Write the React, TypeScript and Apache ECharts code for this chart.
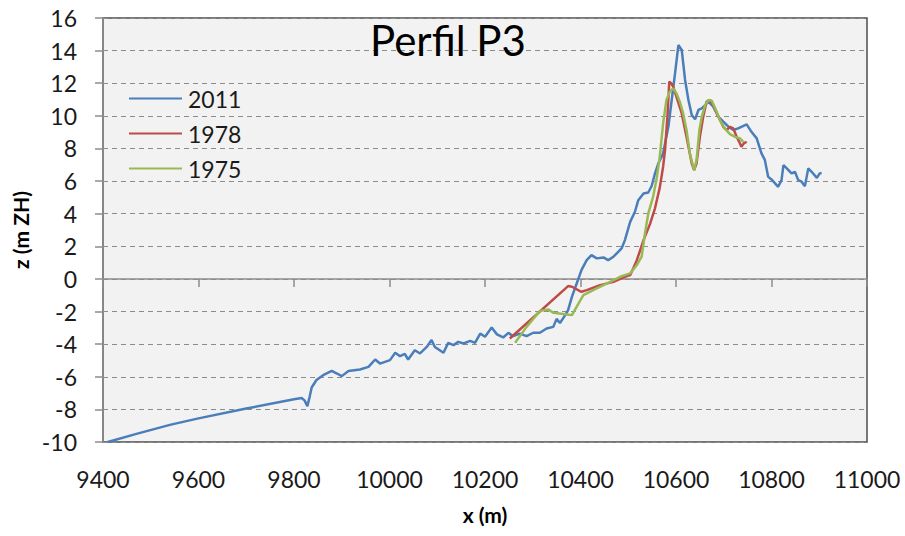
import React, { useEffect, useRef } from "react";
import * as echarts from "echarts";

const seriesNames = ["2011", "1978", "1975"];

const profile2011: [number, number][] = [
  [9410, -10], [9470, -9.5], [9540, -8.95], [9600, -8.55], [9700, -7.95], [9800, -7.38],
  [9816, -7.3], [9822, -7.45], [9828, -7.8], [9833, -7.2], [9837, -6.66], [9847, -6.2],
  [9861, -5.9], [9879, -5.64], [9890, -5.8], [9900, -5.96], [9914, -5.64], [9938, -5.55],
  [9956, -5.39], [9970, -4.94], [9980, -5.19], [10001, -4.98], [10012, -4.53], [10022, -4.74],
  [10032, -4.6], [10039, -4.94], [10053, -4.37], [10064, -4.57], [10078, -4.17], [10088, -3.75],
  [10095, -4.17], [10113, -4.53], [10123, -3.92], [10134, -4.06], [10144, -3.86], [10155, -3.96],
  [10169, -3.8], [10179, -3.92], [10190, -3.35], [10200, -3.55], [10214, -2.98], [10225, -3.4],
  [10238, -3.59], [10249, -3.31], [10259, -3.51], [10273, -3.35], [10287, -3.51], [10301, -3.3],
  [10315, -3.3], [10329, -3.04], [10343, -2.94], [10350, -2.45], [10357, -2.7], [10368, -2.22],
  [10374, -1.91], [10382, -1.1], [10392, -0.28], [10402, 0.54], [10413, 1.15], [10423, 1.46],
  [10434, 1.26], [10448, 1.32], [10458, 1.15], [10469, 1.36], [10479, 1.66], [10486, 1.87],
  [10493, 2.38], [10504, 3.5], [10514, 4.12], [10521, 4.83], [10532, 5.24], [10542, 5.3],
  [10549, 5.7], [10556, 6.47], [10563, 7.08], [10573, 7.7], [10584, 9.33], [10591, 10.97],
  [10598, 12.6], [10605, 14.34], [10612, 14.04], [10619, 12.2], [10626, 10.97], [10633, 10.05],
  [10640, 9.79], [10647, 10.36], [10654, 10.46], [10661, 10.66], [10668, 10.87], [10678, 10.56],
  [10689, 9.94], [10699, 9.64], [10710, 9.33], [10720, 9.13], [10730, 9.23], [10737, 9.33],
  [10748, 9.48], [10758, 9.02], [10769, 8.62], [10779, 7.7], [10786, 7.3], [10793, 6.26],
  [10800, 6.1], [10814, 5.65], [10821, 6.06], [10825, 6.98], [10832, 6.78], [10842, 6.47],
  [10849, 6.57], [10856, 6.06], [10863, 5.96], [10870, 5.69], [10877, 6.78], [10884, 6.57],
  [10895, 6.2], [10901, 6.47], [10905, 6.5],
];

const profile1978: [number, number][] = [
  [10252, -3.65], [10374, -0.44], [10382, -0.48], [10402, -0.79], [10413, -0.69], [10441, -0.38],
  [10469, -0.18], [10493, 0.13], [10504, 0.23], [10518, 1.15], [10532, 2.38], [10546, 3.4],
  [10556, 4.33], [10566, 5.6], [10573, 6.88], [10577, 7.9], [10582, 9.94], [10586, 12.1],
  [10590, 11.99], [10594, 11.79], [10601, 11.17], [10612, 10.15], [10622, 8.72], [10633, 7.08],
  [10638, 6.67], [10643, 7.08], [10650, 8.72], [10657, 9.94], [10664, 10.87], [10671, 10.97],
  [10678, 10.66], [10689, 9.94], [10699, 9.33], [10706, 9.13], [10713, 9.33], [10720, 9.23],
  [10727, 8.72], [10734, 8.31], [10737, 8.1], [10742, 8.31], [10748, 8.41],
];

const profile1975: [number, number][] = [
  [10263, -3.92], [10287, -2.94], [10315, -1.96], [10333, -1.87], [10343, -2.08], [10368, -2.16],
  [10382, -2.22], [10396, -1.5], [10406, -0.99], [10434, -0.58], [10462, -0.18], [10483, 0.13],
  [10504, 0.34], [10518, 0.85], [10528, 1.36], [10535, 2.79], [10542, 4.02], [10552, 5.04],
  [10559, 6.06], [10566, 7.49], [10573, 9.54], [10580, 10.97], [10587, 11.48], [10594, 11.69],
  [10601, 11.38], [10608, 10.87], [10615, 10.15], [10622, 9.13], [10629, 7.7], [10638, 6.67],
  [10643, 7.29], [10649, 9.13], [10654, 9.94], [10661, 10.66], [10668, 10.97], [10675, 10.93],
  [10682, 10.46], [10692, 9.74], [10702, 9.23], [10713, 8.88], [10723, 8.72], [10734, 8.62],
  [10741, 8.41],
];

const xRange = { min: 9400, max: 11000, step: 200 };
const yRange = { min: -10, max: 16, step: 2 };

const FONT = "Lato, 'Open Sans', sans-serif";

export default function App() {
  const ref = useRef<HTMLDivElement>(null);
  useEffect(() => {
    if (!ref.current) return;
    document.body.style.margin = "0";
    document.body.style.overflow = "hidden";
    const chart = echarts.init(ref.current, undefined, { renderer: "svg" });
    const colors = ["#4a7ebb", "#be4b48", "#98b954"];
    const datasets = [profile2011, profile1978, profile1975];
    chart.setOption({
      animation: false,
      backgroundColor: "#ffffff",
      color: colors,
      grid: {
        left: 103,
        right: 38,
        top: 18,
        bottom: 94,
        containLabel: false,
        outerBoundsMode: "none",
        show: true,
        backgroundColor: "#f2f2f2",
        borderColor: "#4d4d4d",
        borderWidth: 1.5,
      },
      graphic: [
        {
          type: "text",
          x: 448,
          y: 40,
          style: {
            text: "Perfil P3",
            font: `42px ${FONT}`,
            fill: "#000",
            textAlign: "center",
            textVerticalAlign: "middle",
          },
          z: 10,
        },
      ],
      legend: {
        orient: "vertical",
        left: 128,
        top: 87,
        padding: 0,
        itemWidth: 53,
        itemHeight: 22,
        itemGap: 12,
        data: seriesNames,
        itemStyle: { opacity: 0 },
        textStyle: { fontFamily: FONT, fontSize: 23, color: "#1a1a1a", padding: [0, 0, 0, 1] },
      },
      xAxis: {
        type: "value",
        min: xRange.min,
        max: xRange.max,
        interval: xRange.step,
        name: "x (m)",
        nameLocation: "middle",
        nameGap: 62,
        nameTextStyle: { fontFamily: FONT, fontSize: 21, fontWeight: "bold", color: "#000" },
        axisLine: { show: true, lineStyle: { color: "#8c8c8c", width: 1.5 } },
        axisTick: { show: true, length: 8, lineStyle: { color: "#8c8c8c", width: 1.5 } },
        axisLabel: {
          fontFamily: FONT,
          fontSize: 23,
          color: "#1a1a1a",
          margin: 25,
          formatter: (v: number) => String(v),
        },
        splitLine: { show: false },
      },
      yAxis: {
        type: "value",
        min: yRange.min,
        max: yRange.max,
        interval: yRange.step,
        name: "z (m ZH)",
        nameLocation: "middle",
        nameRotate: 90,
        nameGap: 70,
        nameTextStyle: { fontFamily: FONT, fontSize: 21, fontWeight: "bold", color: "#000" },
        axisLine: { show: true, lineStyle: { color: "#8c8c8c", width: 1.5 } },
        axisTick: { show: true, length: 8, lineStyle: { color: "#8c8c8c", width: 1.5 } },
        axisLabel: {
          fontFamily: FONT,
          fontSize: 23,
          color: "#1a1a1a",
          margin: 26,
          formatter: (v: number) => String(v),
        },
        splitLine: {
          show: true,
          lineStyle: { color: "#8c8c8c", width: 1, type: [5, 4] },
        },
      },
      series: seriesNames.map((name, i) => ({
        name,
        type: "line",
        data: datasets[i],
        showSymbol: false,
        symbol: "none",
        lineStyle: { width: 2.5, color: colors[i] },
        z: 2 + i,
      })),
    });
    return () => chart.dispose();
  }, []);
  return <div ref={ref} style={{ width: 905, height: 536 }} />;
}
